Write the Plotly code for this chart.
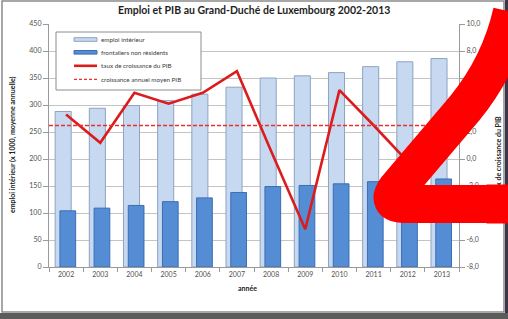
import numpy as np
import plotly.graph_objects as go

# ---------------- data ----------------
years = ['2002', '2003', '2004', '2005', '2006', '2007', '2008', '2009', '2010', '2011', '2012', '2013']
emploi_interieur = [288, 294, 299, 308, 320, 333, 350, 354, 360, 371, 380, 386]
frontaliers = [104, 109, 114, 121, 128, 138, 149, 151, 154, 158, 160, 163]
croissance_pib = [3.3, 1.2, 4.9, 4.1, 4.9, 6.5, 0.6, -5.2, 5.1, 2.5, -0.2, 2.0]
y2_ticks = [-8, -6, -4, -2, 0, 2, 4, 6, 8, 10]
y2_labels = ['-8,0', '-6,0', '-4,0', '-2,0', '0,0', '2,0', '4,0', '6,0', '8,0', '10,0']
moyenne_pib = float(np.mean(croissance_pib))

legend_labels = ['emploi intérieur', 'frontaliers non résidents',
                 'taux de croissance du PIB', 'croissance annuel moyen PIB']

# ---------------- style ----------------
W, H = 508, 319
L, R, T, B = 49, 49, 24, 52
PW, PH = W - L - R, H - T - B
FONT = 'Lato'
LIGHT, LIGHT_EDGE = '#c6d9f1', '#8fa3bf'
DARK, DARK_EDGE = '#548dd4', '#3b6db5'
RED = '#dc1c1c'
DASH_RED = '#e8302c'
GRID = '#c4c4c4'
AXIS = '#9a9a9a'
TXT = '#505050'


def px(x):
    return (x - L) / PW


def py(y):
    return (H - B - y) / PH


fig = go.Figure()
fig.add_trace(go.Bar(x=years, y=emploi_interieur, name=legend_labels[0],
                     marker=dict(color=LIGHT, line=dict(color=LIGHT_EDGE, width=1)),
                     offset=-0.32, width=0.47, showlegend=False))
fig.add_trace(go.Bar(x=years, y=frontaliers, name=legend_labels[1],
                     marker=dict(color=DARK, line=dict(color=DARK_EDGE, width=1)),
                     offset=-0.18, width=0.46, showlegend=False))
fig.add_trace(go.Scatter(x=years, y=croissance_pib, name=legend_labels[2], yaxis='y2',
                         mode='lines', line=dict(color=RED, width=2.6), showlegend=False))
fig.add_trace(go.Scatter(x=[0, 1], y=[moyenne_pib, moyenne_pib], name=legend_labels[3],
                         xaxis='x2', yaxis='y2', mode='lines',
                         line=dict(color=DASH_RED, width=1.5, dash='4px,2px'), showlegend=False))

tickfont = dict(family=FONT, size=7, color=TXT)
fig.update_layout(
    width=W, height=H, margin=dict(l=L, r=R, t=T, b=B),
    paper_bgcolor='white', plot_bgcolor='white',
    barmode='overlay', showlegend=False,
    xaxis=dict(type='category', showline=True, linecolor=AXIS, linewidth=1.2,
               ticks='outside', tickson='boundaries', ticklen=4, tickcolor=AXIS,
               tickfont=tickfont, showgrid=False),
    xaxis2=dict(overlaying='x', range=[0, 1], visible=False),
    yaxis=dict(range=[0, 450], dtick=50, showgrid=True, gridcolor=GRID, gridwidth=1.3,
               showline=True, linecolor=AXIS, linewidth=1.2, ticks='outside', ticklen=5,
               tickcolor=AXIS, tickfont=tickfont, zeroline=False),
    yaxis2=dict(range=[-8, 10], overlaying='y', side='right', tickvals=y2_ticks,
                ticktext=y2_labels, showgrid=False, showline=True, linecolor=AXIS,
                linewidth=1.2, ticks='outside', ticklen=5, tickcolor=AXIS,
                tickfont=tickfont, zeroline=False),
)

shapes = []
# photo surroundings and chart frame
shapes.append(dict(type='rect', xref='paper', yref='paper', x0=px(-5), x1=px(W + 5),
                   y0=py(313), y1=py(H + 5), fillcolor='#5b5b5b', line=dict(width=0), layer='below'))
shapes.append(dict(type='rect', xref='paper', yref='paper', x0=px(505), x1=px(W + 5),
                   y0=py(-5), y1=py(313), fillcolor='#3e3448', line=dict(width=0), layer='below'))
shapes.append(dict(type='rect', xref='paper', yref='paper', x0=px(2), x1=px(504),
                   y0=py(1), y1=py(312), line=dict(color='#8a8a8a', width=1.5), layer='below'))

# manual legend
shapes.append(dict(type='rect', xref='paper', yref='paper', x0=px(56), x1=px(201),
                   y0=py(32), y1=py(90), fillcolor='white', line=dict(color='#8c8c8c', width=1),
                   layer='above'))
leg_y = [39.5, 52.3, 65.8, 79.3]
shapes.append(dict(type='rect', xref='paper', yref='paper', x0=px(74), x1=px(97),
                   y0=py(leg_y[0] - 1.8), y1=py(leg_y[0] + 1.8), fillcolor=LIGHT,
                   line=dict(color=LIGHT_EDGE, width=1), layer='above'))
shapes.append(dict(type='rect', xref='paper', yref='paper', x0=px(74), x1=px(97),
                   y0=py(leg_y[1] - 1.8), y1=py(leg_y[1] + 1.8), fillcolor=DARK,
                   line=dict(color=DARK_EDGE, width=1), layer='above'))
shapes.append(dict(type='line', xref='paper', yref='paper', x0=px(74), x1=px(97),
                   y0=py(leg_y[2]), y1=py(leg_y[2]), line=dict(color=RED, width=2.6), layer='above'))
shapes.append(dict(type='line', xref='paper', yref='paper', x0=px(74), x1=px(97),
                   y0=py(leg_y[3]), y1=py(leg_y[3]), line=dict(color=DASH_RED, width=1.3, dash='3px,2px'),
                   layer='above'))

# red "2" overlay
pts = [('M', (530, 204)), ('L', (405, 204)), ('Q', (385, 204), (397, 188)),
       ('L', (465, 108)), ('Q', (500, 65), (512, 12))]
path = ''
for item in pts:
    cmd = item[0]
    coords = ' '.join('{:.4f},{:.4f}'.format(px(a), py(b)) for a, b in item[1:])
    path += '{} {} '.format(cmd, coords)
shapes.append(dict(type='path', xref='paper', yref='paper', path=path.strip(),
                   line=dict(color='#ff0000', width=38), layer='above'))
fig.update_layout(shapes=shapes)

ann = []
ann.append(dict(text='Emploi et PIB au Grand-Duché de Luxembourg 2002-2013', x=px(253.5), y=py(10),
                xref='paper', yref='paper', showarrow=False, xanchor='center', yanchor='middle',
                font=dict(family=FONT, size=10.5, color='#1e1e1e', weight='bold')))
ann.append(dict(text='emploi intérieur (x 1000, moyenne annuelle)', x=px(12), y=py(145),
                xref='paper', yref='paper', showarrow=False, textangle=-90,
                xanchor='center', yanchor='middle',
                font=dict(family=FONT, size=7, color='#222222', weight='bold')))
ann.append(dict(text='taux de croissance du PIB', x=px(498), y=py(156),
                xref='paper', yref='paper', showarrow=False, textangle=-90,
                xanchor='center', yanchor='middle',
                font=dict(family=FONT, size=7, color='#222222', weight='bold')))
ann.append(dict(text='année', x=px(247), y=py(287.5), xref='paper', yref='paper', showarrow=False,
                xanchor='center', yanchor='middle',
                font=dict(family=FONT, size=7, color='#222222', weight='bold')))
for lab, yy in zip(legend_labels, leg_y):
    ann.append(dict(text=lab, x=px(99), y=py(yy), xref='paper', yref='paper', showarrow=False,
                    xanchor='left', yanchor='middle',
                    font=dict(family=FONT, size=6.3, color='#404040')))
# red band portion overlapping the right axis title (annotations sit above shapes)
ann.append(dict(text=' ', x=px(498), y=py(204), xref='paper', yref='paper', showarrow=False,
                xanchor='center', yanchor='middle', width=22, height=38, borderpad=0,
                bgcolor='#ff0000', font=dict(size=1)))
fig.update_layout(annotations=ann)

fig.write_html('out.html', config={'displayModeBar': False},
               post_script="document.body.style.margin='0';document.body.style.overflow='hidden';")
